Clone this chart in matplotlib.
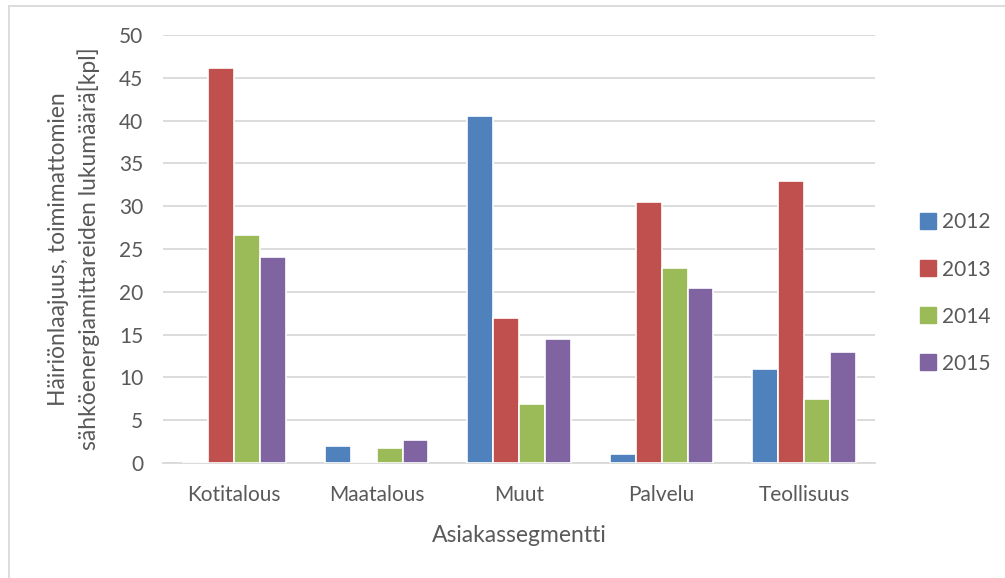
import numpy as np
import matplotlib.pyplot as plt
from matplotlib.lines import Line2D

categories = ["Kotitalous", "Maatalous", "Muut", "Palvelu", "Teollisuus"]
years = ["2012", "2013", "2014", "2015"]
v2012 = [0, 2.0, 40.5, 1.0, 11.0]
v2013 = [46.1, 0, 16.9, 30.5, 33.0]
v2014 = [26.6, 1.7, 6.9, 22.8, 7.5]
v2015 = [24.1, 2.7, 14.5, 20.4, 13.0]
series = [v2012, v2013, v2014, v2015]
colors = ["#4f81bd", "#c0504d", "#9bbb59", "#8064a2"]

txt = "#595959"
plt.rcParams['font.family'] = ['Lato', 'DejaVu Sans']

fig = plt.figure(figsize=(10.05, 5.78), dpi=100)
ax = fig.add_axes([0.162, 0.199, 0.709, 0.7404])

x = np.arange(len(categories))
w = 0.182
for i, (vals, c) in enumerate(zip(series, colors)):
    ax.bar(x + (i - 1.5) * w, vals, w, color=c, edgecolor="white",
           linewidth=1.2, label=years[i], zorder=3)

ax.set_xlim(-0.5, len(categories) - 0.5)
ax.set_ylim(0, 50)
ax.set_yticks(range(0, 51, 5))
ax.set_xticks(x)
ax.set_xticklabels(categories)
ax.yaxis.grid(True, color="#d9d9d9", linewidth=1.3, zorder=0)
for s in ["top", "right", "left"]:
    ax.spines[s].set_visible(False)
ax.spines["bottom"].set_color("#d9d9d9")
ax.spines["bottom"].set_linewidth(1.3)
ax.tick_params(axis="both", length=0, labelsize=15, colors=txt)
ax.tick_params(axis="x", pad=16)
ax.tick_params(axis="y", pad=14)

ax.set_xlabel("Asiakassegmentti", fontsize=16.5, color=txt, labelpad=14)
ax.set_ylabel("Häiriönlaajuus, toimimattomien\nsähköenergiamittareiden lukumäärä[kpl]",
              fontsize=16.5, color=txt, labelpad=14, linespacing=1.45)

handles = [Line2D([], [], marker="s", linestyle="", markersize=11,
                  markerfacecolor=c, markeredgecolor=c) for c in colors]
fig.legend(handles, years, loc="center left", bbox_to_anchor=(0.894, 0.493),
           frameon=False, fontsize=15, labelcolor=txt, labelspacing=1.3,
           handletextpad=0.2, handlelength=1.0)

# chart border (left and top visible)
fig.add_artist(Line2D([9 / 1005, 9 / 1005], [0, 1 - 6 / 578],
                      transform=fig.transFigure, color="#d9d9d9", linewidth=1.3))
fig.add_artist(Line2D([9 / 1005, 1], [1 - 6 / 578, 1 - 6 / 578],
                      transform=fig.transFigure, color="#d9d9d9", linewidth=1.3))

fig.savefig("out.png", dpi=100)
